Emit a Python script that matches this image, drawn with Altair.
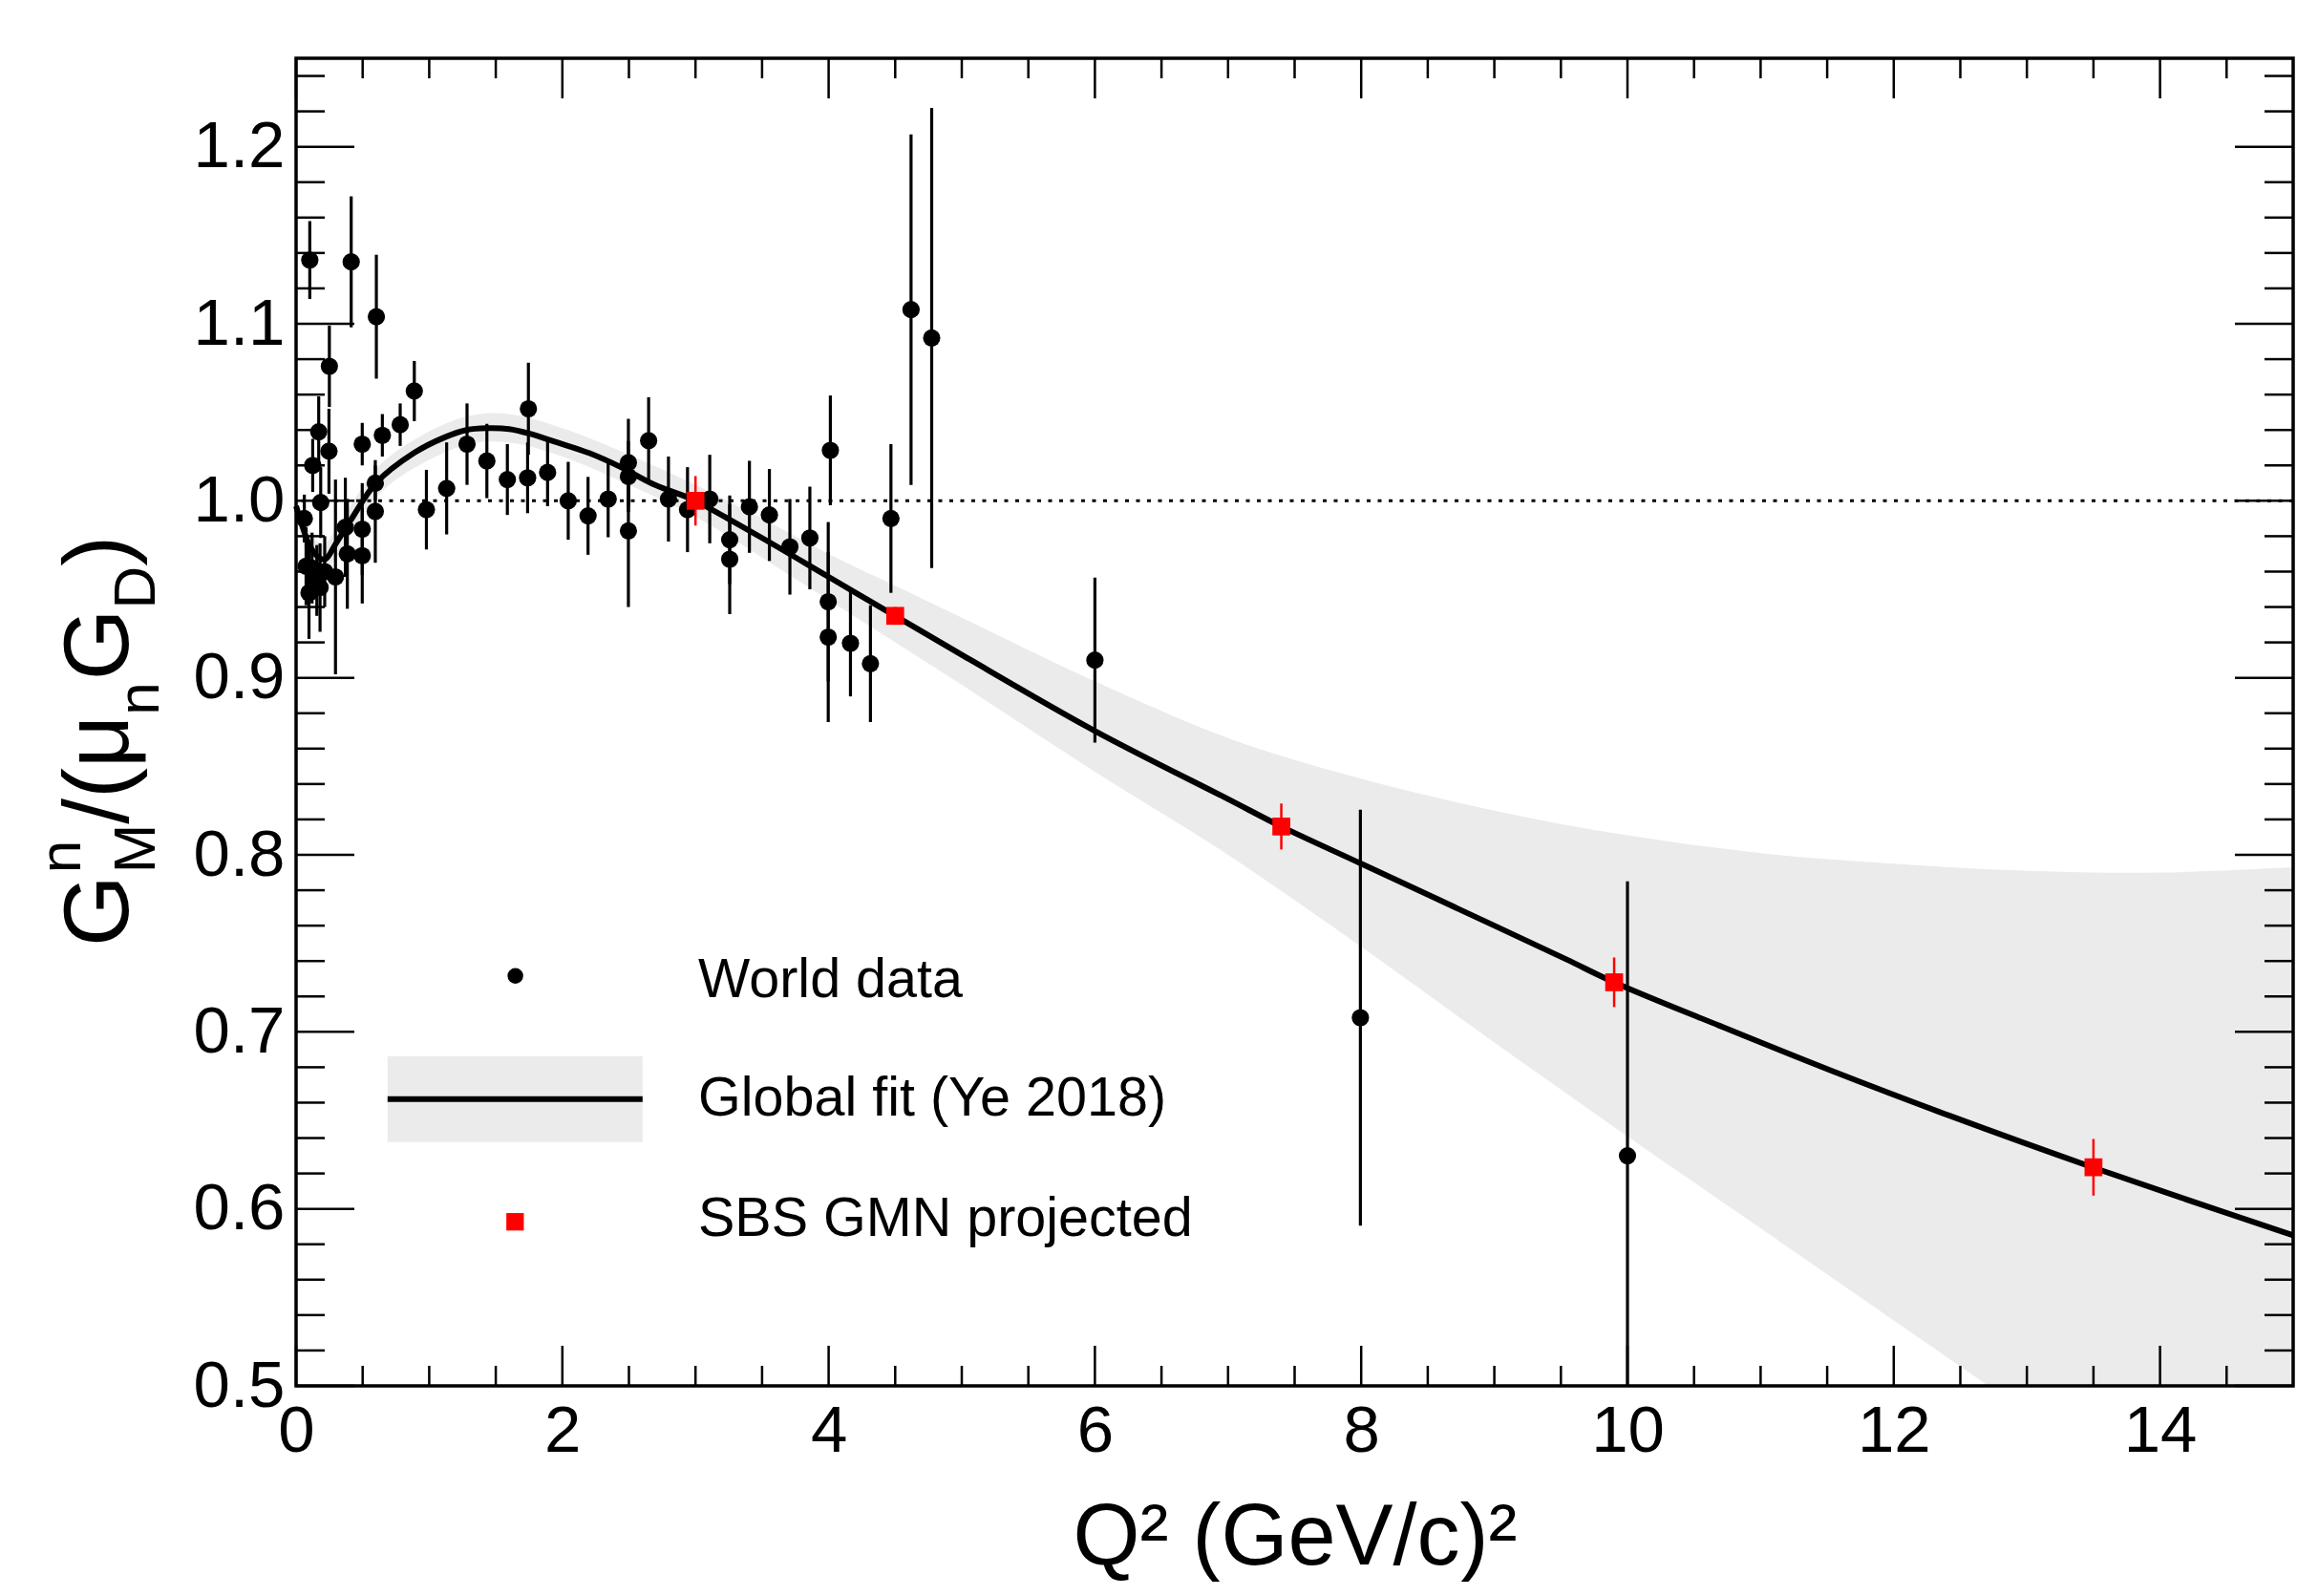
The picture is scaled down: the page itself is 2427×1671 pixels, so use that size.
import altair as alt
import pandas as pd

# ---------------- data ----------------
world_q = [0.103, 0.414, 0.603, 0.250, 0.170, 0.247, 0.125, 0.497, 0.648, 0.782,
           0.888, 0.185, 0.062, 0.595, 0.595, 0.497, 0.497, 0.370, 0.385, 0.296,
           0.180, 0.097, 0.120, 0.215, 0.156, 0.075,
           0.979, 1.131, 1.284, 1.433, 1.587, 1.745, 1.739, 1.889, 2.044, 2.193,
           2.344, 2.496, 2.496, 2.496, 2.648, 2.797, 2.940, 3.107, 3.257, 3.257,
           3.405, 3.555, 3.709, 3.859, 4.013, 3.997, 3.997, 4.164, 4.314, 4.468,
           4.619, 4.774, 6.000, 7.994, 10.000]
world_v = [1.136, 1.135, 1.104, 1.076, 1.039, 1.028, 1.020, 1.032, 1.037, 1.043,
           1.062, 0.999, 0.990, 1.010, 0.994, 0.984, 0.969, 0.985, 0.970, 0.957,
           0.951, 0.948, 0.962, 0.960, 0.955, 0.963,
           0.995, 1.007, 1.032, 1.0225, 1.012, 1.052, 1.013, 1.016, 1.000, 0.9915,
           1.001, 1.0216, 1.0137, 0.983, 1.034, 1.001, 0.995, 1.001, 0.978, 0.967,
           0.9966, 0.992, 0.974, 0.979, 1.0285, 0.943, 0.923, 0.9195, 0.908, 0.990,
           1.108, 1.092, 0.910, 0.708, 0.630]
world_err = [0.022, 0.037, 0.035, 0.023, 0.020, 0.024, 0.015, 0.012, 0.012, 0.012,
             0.017, 0.020, 0.0135, 0.010, 0.029, 0.026, 0.027, 0.028, 0.031, 0.055,
             0.025, 0.026, 0.020, 0.020, 0.020, 0.022,
             0.0225, 0.026, 0.023, 0.021, 0.020, 0.026, 0.020, 0.019, 0.022, 0.022,
             0.0216, 0.0247, 0.020, 0.043, 0.0245, 0.024, 0.024, 0.025, 0.025, 0.031,
             0.026, 0.026, 0.027, 0.029, 0.031, 0.045, 0.048, 0.030, 0.033, 0.042,
             0.099, 0.130, 0.0466, 0.1175, 0.155]

sbs_q = [3.0, 4.5, 7.4, 9.9, 13.5]
sbs_v = [1.000, 0.935, 0.816, 0.728, 0.6235]
sbs_err = [0.014, 0.005, 0.013, 0.014, 0.016]

fit_q = [0.0, 0.05, 0.10, 0.17, 0.22, 0.30, 0.41, 0.60, 0.885, 1.12, 1.28, 1.44,
         1.60, 1.75, 1.96, 2.20, 2.44, 2.68, 2.94, 3.00, 3.50, 4.00, 4.50, 5.00,
         6.00, 7.00, 7.40, 8.00, 9.00, 9.54, 9.90, 10.69, 11.55, 12.42, 13.50,
         15.00]
fit_v = [0.997, 0.985, 0.975, 0.968, 0.967, 0.976, 0.989, 1.010, 1.027, 1.036,
         1.040, 1.041, 1.0405, 1.038, 1.033, 1.027, 1.019, 1.0095, 1.002, 1.000,
         0.979, 0.957, 0.935, 0.913, 0.870, 0.8315, 0.816, 0.795, 0.760, 0.741,
         0.728, 0.7035, 0.6775, 0.6526, 0.6233, 0.585]

band_q = [0.0, 0.10, 0.20, 0.30, 0.60, 0.90, 1.30, 1.60, 2.00, 2.50, 3.00, 3.50,
          4.00, 4.50, 5.00, 6.00, 7.00, 8.00, 9.00, 10.00, 11.00, 12.00, 13.00,
          14.00, 15.00]
band_lo = [0.991, 0.967, 0.959, 0.968, 1.002, 1.019, 1.032, 1.033, 1.025, 1.009,
           0.991, 0.968, 0.944, 0.920, 0.896, 0.847, 0.800, 0.748, 0.694, 0.641,
           0.589, 0.537, 0.485, 0.433, 0.380]
band_hi = [1.003, 0.983, 0.975, 0.984, 1.018, 1.035, 1.048, 1.049, 1.041, 1.026,
           1.009, 0.990, 0.970, 0.952, 0.934, 0.898, 0.866, 0.843, 0.825, 0.811,
           0.801, 0.795, 0.791, 0.790, 0.793]

x_major_ticks = [0, 2, 4, 6, 8, 10, 12, 14]
x_minor_ticks = [0.5, 1, 1.5, 2.5, 3, 3.5, 4.5, 5, 5.5, 6.5, 7, 7.5, 8.5, 9, 9.5,
                 10.5, 11, 11.5, 12.5, 13, 13.5, 14.5]
y_major_ticks = [0.5, 0.6, 0.7, 0.8, 0.9, 1.0, 1.1, 1.2]
y_minor_ticks = [0.52, 0.54, 0.56, 0.58, 0.62, 0.64, 0.66, 0.68, 0.72, 0.74, 0.76,
                 0.78, 0.82, 0.84, 0.86, 0.88, 0.92, 0.94, 0.96, 0.98, 1.02, 1.04,
                 1.06, 1.08, 1.12, 1.14, 1.16, 1.18, 1.22, 1.24]

legend_labels = ["World data", "Global fit (Ye 2018)", "SBS GMN projected"]
x_title = "Q\u00b2 (GeV/c)\u00b2"

# ---------------- layout constants ----------------
W, H = 2091, 1390
FONT = "Liberation Sans"
BAND = "#ebebeb"
RED = "#ff0000"

world = pd.DataFrame({"q": world_q, "v": world_v,
                      "lo": [v - e for v, e in zip(world_v, world_err)],
                      "hi": [v + e for v, e in zip(world_v, world_err)]})
sbs = pd.DataFrame({"q": sbs_q, "v": sbs_v,
                    "lo": [v - e for v, e in zip(sbs_v, sbs_err)],
                    "hi": [v + e for v, e in zip(sbs_v, sbs_err)]})
fit = pd.DataFrame({"q": fit_q, "v": fit_v})
band = pd.DataFrame({"q": band_q, "lo": band_lo, "hi": band_hi})
xmaj = pd.DataFrame({"q": x_major_ticks})
xmin = pd.DataFrame({"q": x_minor_ticks})
ymaj = pd.DataFrame({"v": y_major_ticks})
ymin = pd.DataFrame({"v": y_minor_ticks})
unity = pd.DataFrame({"v": [1.0]})
one = pd.DataFrame({"k": [0]})

xscale = alt.Scale(domain=[0, 15], nice=False, zero=False)
yscale = alt.Scale(domain=[0.5, 1.25], nice=False, zero=False)
xaxis = alt.Axis(values=x_major_ticks, format="d", title=x_title, grid=False,
                 domain=False, ticks=False, tickSize=0,
                 labelFontSize=69, labelPadding=13, labelFlush=False,
                 labelOverlap=False, titleFontSize=90, titleFontWeight="normal",
                 titleY=186, titleBaseline="alphabetic")
yaxis = alt.Axis(values=y_major_ticks, format=".1f", title=None, grid=False,
                 domain=False, ticks=False, tickSize=0,
                 labelFontSize=69, labelPadding=12, labelFlush=False,
                 labelOverlap=False)


def X(field="q"):
    return alt.X(f"{field}:Q", scale=xscale, axis=xaxis)


def Y(field="v"):
    return alt.Y(f"{field}:Q", scale=yscale, axis=yaxis)


layers = []

# fit uncertainty band
layers.append(alt.Chart(band).mark_area(color=BAND, interpolate="catmull-rom", clip=True)
              .encode(x=X(), y=Y("lo"), y2="hi:Q"))
# dotted line at 1
layers.append(alt.Chart(unity).mark_rule(color="black", strokeWidth=3, strokeDash=[4, 7.5])
              .encode(y=Y()))
# fit curve
layers.append(alt.Chart(fit).mark_line(color="black", strokeWidth=6,
                                      interpolate="catmull-rom")
              .encode(x=X(), y=Y()))
# world data error bars + points
layers.append(alt.Chart(world).mark_rule(color="black", strokeWidth=3.2, clip=True)
              .encode(x=X(), y=Y("lo"), y2="hi:Q"))
layers.append(alt.Chart(world).mark_point(shape="circle", filled=True, size=330,
                                         color="black", opacity=1)
              .encode(x=X(), y=Y()))
# SBS projected
layers.append(alt.Chart(sbs).mark_rule(color=RED, strokeWidth=2.5)
              .encode(x=X(), y=Y("lo"), y2="hi:Q"))
layers.append(alt.Chart(sbs).mark_square(size=350, color=RED, opacity=1)
              .encode(x=X(), y=Y()))

# inward ticks on all four sides
for df, ln in ((xmaj, 42), (xmin, 21)):
    layers.append(alt.Chart(df).mark_rule(color="black", strokeWidth=2.5)
                  .encode(x=X(), y=alt.value(H), y2=alt.value(H - ln)))
    layers.append(alt.Chart(df).mark_rule(color="black", strokeWidth=2.5)
                  .encode(x=X(), y=alt.value(0), y2=alt.value(ln)))
for df, ln in ((ymaj, 61), (ymin, 30)):
    layers.append(alt.Chart(df).mark_rule(color="black", strokeWidth=2.5)
                  .encode(y=Y(), x=alt.value(0), x2=alt.value(ln)))
    layers.append(alt.Chart(df).mark_rule(color="black", strokeWidth=2.5)
                  .encode(y=Y(), x=alt.value(W), x2=alt.value(W - ln)))

# frame around the plot area
layers.append(alt.Chart(one).mark_rect(filled=False, stroke="black", strokeWidth=3.5)
              .encode(x=alt.value(0), x2=alt.value(W), y=alt.value(0), y2=alt.value(H)))

# legend (drawn inside the frame, ROOT style)
layers.append(alt.Chart(one).mark_point(shape="circle", filled=True, size=270,
                                       color="black", opacity=1)
              .encode(x=alt.value(229.6), y=alt.value(960.7)))
layers.append(alt.Chart(one).mark_rect(color=BAND)
              .encode(x=alt.value(95.8), x2=alt.value(362.8),
                      y=alt.value(1044.7), y2=alt.value(1134.7)))
layers.append(alt.Chart(one).mark_rule(color="black", strokeWidth=6)
              .encode(x=alt.value(95.8), x2=alt.value(362.8), y=alt.value(1089.7)))
layers.append(alt.Chart(one).mark_square(size=335, color=RED, opacity=1)
              .encode(x=alt.value(229.3), y=alt.value(1218.2)))
for lab, yb in zip(legend_labels, [983, 1107, 1233]):
    layers.append(alt.Chart(one).mark_text(text=lab, font=FONT, fontSize=57.5,
                                          align="left", baseline="alphabetic",
                                          color="black")
                  .encode(x=alt.value(421), y=alt.value(yb)))

# y-axis title  G^n_M/(mu_n G_D), built from pieces (rotated)
F, f = 96, 62
title_pieces = [
    ("G", F, 0, 0),
    ("n", f, 76.7, -50),
    ("M", f, 76.7, 28),
    ("/(\u03bc", F, 128.3, 0),
    ("n", f, 242.3, 32),
    ("G", F, 278.8, 0),
    ("D", f, 353.5, 28),
    (")", F, 398.3, 0),
]
for txt, fs, ddx, ddy in title_pieces:
    layers.append(alt.Chart(one).mark_text(text=txt, font=FONT, fontSize=fs,
                                          angle=270, align="left",
                                          baseline="alphabetic", color="black",
                                          dx=ddx, dy=ddy)
                  .encode(x=alt.value(-176), y=alt.value(930)))

chart = (alt.layer(*layers)
         .properties(width=W, height=H,
                     autosize=alt.AutoSizeParams(type="none"),
                     padding={"left": 302, "top": 53, "right": 10, "bottom": 205})
         .configure_view(stroke="black", strokeWidth=3)
         .configure_axis(grid=False, domain=False, ticks=False,
                         labelFont=FONT, titleFont=FONT, labelColor="black",
                         titleColor="black")
         .configure(background="white"))

chart.save("out.html", embed_options={"renderer": "svg", "actions": False})
